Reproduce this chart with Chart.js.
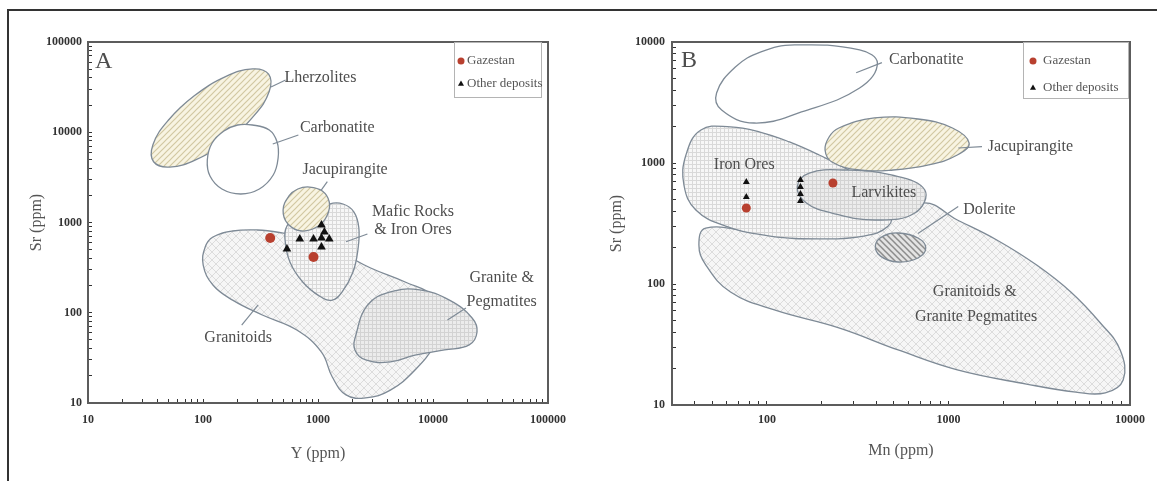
<!DOCTYPE html>
<html>
<head>
<meta charset="utf-8">
<script src="https://cdn.jsdelivr.net/npm/chart.js@4.4.1/dist/chart.umd.min.js"></script>
<style>
  html, body { margin: 0; padding: 0; background: #fff; }
  body { width: 1157px; height: 481px; position: relative; overflow: hidden; }
  #frame { position: absolute; left: 7px; top: 9px; width: 1200px; height: 600px;
           border-left: 2px solid #333; border-top: 2px solid #333; }
  .panel { position: absolute; top: 0; }
  #panelA { left: 0; }
  #panelB { left: 580px; }
</style>
</head>
<body>
<div id="frame"></div>
<div class="panel" id="panelA"><canvas id="chartA" width="580" height="481"></canvas></div>
<div class="panel" id="panelB"><canvas id="chartB" width="577" height="481"></canvas></div>
<script>
// ---- Panel A : Sr vs Y (ppm) ----
const xTicksA = [10, 100, 1000, 10000, 100000];
const yTicksA = [10, 100, 1000, 10000, 100000];

const gazestanA = [[384, 673], [914, 415]];
const otherA = [[537, 508], [694, 656], [914, 656], [1072, 938], [1072, 673], [1253, 656], [1072, 535], [1137, 785]];

const lherzolitesA = [[372, 44000], [377, 28400], [279, 15350], [164, 8130], [88, 5010], [51.2, 4110],
  [37.2, 4710], [36.7, 7280], [49.7, 13490], [84.5, 25470], [157, 41260], [270, 50350]];
const carbonatiteA = [[269, 12030], [377, 10600], [441, 7800], [450, 5190], [408, 3360], [309, 2350],
  [213, 2070], [146, 2350], [115, 3270], [109, 4930], [120, 7600], [152, 10330], [200, 12030]];
const jacupirangiteA = [[845, 2470], [1091, 2230], [1253, 1687], [1205, 1211], [1009, 914], [722, 805],
  [548, 962], [497, 1377], [559, 1968], [667, 2350]];
const maficA = [[1253, 1603], [1652, 1603], [2056, 1306], [2266, 869], [2222, 496], [2015, 283], [1622, 170],
  [1331, 138], [1030, 153], [736, 219], [570, 365], [517, 640], [537, 914], [654, 1122], [933, 1306]];
const granitoidsA = [[100.4, 338], [104.5, 535], [122, 690], [181, 805], [297, 826], [486, 766], [970, 640],
  [1753, 436], [2870, 313], [5728, 219], [10350, 150], [12600, 83.2], [10350, 44], [6980, 23.2], [4260, 13.9],
  [2600, 11.4], [1753, 12.3], [1331, 19.4], [1072, 36.7], [654, 64.4], [328, 94.4], [181, 138], [122, 203]];
const graniteA = [[2136, 56.8], [2706, 122], [4260, 170], [7690, 179], [13900, 138], [21880, 87.5],
  [24150, 61.2], [20640, 44], [12600, 38.7], [6980, 34], [4260, 28.5], [2600, 30], [2094, 38.7]];

const labelsA = [['Lherzolites', 1050, 39900], ['Carbonatite', 1469, 11140], ['Jacupirangite', 1719, 3820],
  ['Mafic Rocks', 6700, 1306], ['& Iron Ores', 6700, 826], ['Granite &', 39560, 243],
  ['Pegmatites', 39560, 132], ['Granitoids', 202, 52.5]];
const leadersA = [[[390, 31700], [523, 37960]], [[404, 7410], [675, 9330]], [[1067, 2290], [1205, 2830]],
  [[1753, 612], [2690, 746]], [[13360, 83.2], [19330, 113]], [[217, 73.1], [302, 122]]];
const panelA = ['A', 13.7, 60000];

// ---- Panel B : Sr vs Mn (ppm) ----
const xTicksB = [100, 1000, 10000];
const yTicksB = [10, 100, 1000, 10000];

const gazestanB = [[77, 425], [231, 684]];
const otherB = [[77, 697], [77, 524], [153, 724], [153, 634], [153, 555], [153, 486]];

const carbonatiteB = [[142, 9450], [324, 8590], [406, 6700], [324, 4170], [155, 2640], [85, 2140],
  [56.3, 2740], [52.8, 3790], [67, 6210], [92.7, 8270]];
const jacupirangiteB = [[249, 1946], [391, 2356], [679, 2310], [1052, 1946], [1300, 1462], [1119, 1164],
  [778, 963], [496, 875], [324, 875], [228, 1019], [209, 1280], [220, 1641]];
const ironB = [[43.3, 1875], [63, 1987], [91.6, 1803], [133, 1493], [194, 1164], [282, 875], [411, 598],
  [484, 409], [466, 301], [341, 249], [194, 236], [104, 249], [59.2, 301], [40.6, 409], [34.9, 658], [35.8, 1164]];
const larvikitesB = [[171, 826], [272, 875], [484, 796], [741, 598], [653, 386], [396, 338], [228, 386],
  [165, 468], [147, 634]];
const doleriteB = [[528, 264], [679, 240], [750, 199], [679, 164], [528, 152], [422, 170], [396, 210], [437, 249]];
const granitoidsB = [[46, 290], [91.6, 269], [363, 301], [723, 468], [1119, 338], [1846, 231], [3047, 144],
  [4720, 85.9], [6870, 47.6], [8830, 28.5], [9170, 16.1], [7311, 12.6], [5024, 12.8], [2688, 14.9],
  [1119, 19.5], [528, 28.5], [249, 43.4], [110, 61], [63, 85.9], [46, 144], [42.2, 210]];

const labelsB = [['Carbonatite', 755, 7100], ['Jacupirangite', 2826, 1355], ['Iron Ores', 75, 963],
  ['Larvikites', 441, 565], ['Dolerite', 1683, 409], ['Granitoids &', 1397, 86.3],
  ['Granite Pegmatites', 1419, 53.7]];
const leadersB = [[[310, 5570], [430, 6750]], [[1132, 1330], [1530, 1365]], [[679, 262], [1132, 436]]];
const panelB = ['B', 37.2, 6970];

// ---- styling helpers ----
const OUTLINE = '#7e8a96';
const SERIF = "'Liberation Serif', 'Times New Roman', serif";

function pattern(bg, fg, size, kind, lw) {
  const c = document.createElement('canvas');
  c.width = c.height = size;
  const g = c.getContext('2d');
  g.fillStyle = bg;
  g.fillRect(0, 0, size, size);
  g.strokeStyle = fg;
  g.lineWidth = lw || 1;
  g.beginPath();
  if (kind === 'grid') {
    g.moveTo(0, 0.5); g.lineTo(size, 0.5);
    g.moveTo(0.5, 0); g.lineTo(0.5, size);
  }
  if (kind === 'fwd' || kind === 'cross') {
    g.moveTo(-1, size + 1); g.lineTo(size + 1, -1);
    g.moveTo(-1, 1); g.lineTo(1, -1);
    g.moveTo(size - 1, size + 1); g.lineTo(size + 1, size - 1);
  }
  if (kind === 'back' || kind === 'cross') {
    g.moveTo(-1, -1); g.lineTo(size + 1, size + 1);
    g.moveTo(size - 1, -1); g.lineTo(size + 1, 1);
    g.moveTo(-1, size - 1); g.lineTo(1, size + 1);
  }
  g.stroke();
  return g.createPattern(c, 'repeat');
}

const hatchTan = pattern('#f8f4e2', '#d2c8a2', 6, 'fwd', 1.2);
const gridLight = pattern('#f7f7f7', '#d9d9d9', 4, 'grid', 1);
const gridGrey = pattern('#ececec', '#d3d3d3', 4, 'grid', 1);
const diamond = pattern('#f6f6f6', '#dcdcdc', 8, 'cross', 1);
const hatchDark = pattern('#e3e3e3', '#8c8c8c', 6, 'back', 1.5);

const toPts = (arr) => arr.map(([x, y]) => ({ x, y }));

function field(label, pts, fill, order) {
  return { type: 'line', label, data: toPts(pts), closed: true, fill: 'shape', backgroundColor: fill,
    borderColor: OUTLINE, borderWidth: 1.3, pointRadius: 0, tension: 0.42, order };
}
function leader(pts) {
  return { type: 'line', data: toPts(pts), fill: false, borderColor: OUTLINE, borderWidth: 1.2,
    pointRadius: 0, tension: 0, order: 2 };
}
function markers(label, pts, style, color, radius, order) {
  return { type: 'scatter', label, data: toPts(pts), legend: true, pointStyle: style,
    backgroundColor: color, borderColor: color, borderWidth: 0, pointRadius: radius, order };
}

// closes the field outlines into smooth loops
const closeLoops = {
  id: 'closeLoops',
  afterDatasetUpdate(chart, args) {
    const line = args.meta.dataset;
    if (line && chart.data.datasets[args.index].closed) {
      line._loop = true;
      line._fullLoop = true;
      delete line._segments;
      delete line._path;
      line._pointsUpdated = false;
    }
  }
};

// field names, panel letter, plot frame and legend box
const notes = {
  id: 'notes',
  afterDatasetsDraw(chart, args, o) {
    const { ctx, scales: { x, y } } = chart;
    ctx.save();
    ctx.fillStyle = '#4d4d4d';
    ctx.textAlign = 'center';
    ctx.textBaseline = 'middle';
    ctx.font = '16px ' + SERIF;
    o.labels.forEach(([t, vx, vy]) => ctx.fillText(t, x.getPixelForValue(vx), y.getPixelForValue(vy)));
    ctx.font = '24px ' + SERIF;
    ctx.fillText(o.panel[0], x.getPixelForValue(o.panel[1]), y.getPixelForValue(o.panel[2]));
    ctx.restore();
  },
  afterDraw(chart, args, o) {
    const { ctx, chartArea: a } = chart;
    const L = o.legend;
    ctx.save();
    ctx.strokeStyle = '#5c5c5c';
    ctx.lineWidth = 2;
    ctx.strokeRect(a.left, a.top, a.right - a.left, a.bottom - a.top);
    const lx = a.right - L.right - L.w, ly = a.top;
    ctx.lineWidth = 1;
    ctx.strokeStyle = '#b4b4b4';
    ctx.strokeRect(lx + 0.5, ly + 0.5, L.w, L.h);
    ctx.font = '13px ' + SERIF;
    ctx.textAlign = 'left';
    ctx.textBaseline = 'middle';
    chart.data.datasets.filter(d => d.legend).forEach((d, i) => {
      const cy = ly + 19 + i * L.gap;
      ctx.fillStyle = d.backgroundColor;
      ctx.strokeStyle = d.borderColor;
      Chart.helpers.drawPoint(ctx, { pointStyle: d.pointStyle, radius: 3.5, borderWidth: 0, rotation: 0 }, lx + L.mx, cy);
      ctx.fillStyle = '#555';
      ctx.fillText(d.label, lx + L.tx, cy);
    });
    ctx.restore();
  }
};

function logAxis(min, max, labels, o) {
  return {
    type: 'logarithmic', min, max,
    afterFit: (s) => { if (s.isHorizontal()) s.height = o.size; else s.width = o.size; },
    afterBuildTicks: (s) => {
      s.ticks = s.ticks.filter(t => {
        const m = t.value / Math.pow(10, Math.floor(Math.log10(t.value) + 1e-9));
        return Math.abs(m - Math.round(m)) < 1e-6;
      });
    },
    grid: { drawOnChartArea: false, tickLength: -4, tickColor: '#333', lineWidth: 1 },
    border: { display: false },
    ticks: {
      autoSkip: false, maxRotation: 0, padding: o.pad, color: '#333',
      font: { family: SERIF, size: 12, weight: 'bold' },
      callback: (v) => {
        const hit = labels.find(t => Math.abs(t - v) < t * 1e-6);
        return hit ? String(hit) : '';
      }
    },
    title: { display: true, text: o.title, color: '#555', font: { family: SERIF, size: 16 }, padding: o.titlePad }
  };
}

function baseOptions(scales, note) {
  return {
    responsive: false, animation: false, events: [],
    layout: { padding: { left: 0, top: 42, right: 25, bottom: 16 } },
    scales,
    plugins: { legend: { display: false }, tooltip: { enabled: false }, notes: note }
  };
}

new Chart(document.getElementById('chartA'), {
  type: 'scatter',
  data: {
    datasets: [
      markers('Gazestan', gazestanA, 'circle', '#b8402f', 5, 0),
      markers('Other deposits', otherA, 'triangle', '#111', 5, 1),
      ...leadersA.map(leader),
      field('Jacupirangite', jacupirangiteA, hatchTan, 15),
      field('Carbonatite', carbonatiteA, '#ffffff', 16),
      field('Lherzolites', lherzolitesA, hatchTan, 17),
      field('Mafic Rocks & Iron Ores', maficA, gridLight, 18),
      field('Granite & Pegmatites', graniteA, gridGrey, 19),
      field('Granitoids', granitoidsA, diamond, 20)
    ]
  },
  options: baseOptions({
    x: logAxis(10, 100000, xTicksA, { size: 62, pad: 14, title: 'Y (ppm)', titlePad: { top: 0, bottom: 2 } }),
    y: logAxis(10, 100000, yTicksA, { size: 88, pad: 10, title: 'Sr (ppm)', titlePad: { top: 27, bottom: 0 } })
  }, { labels: labelsA, panel: panelA, legend: { w: 87, h: 55, right: 7, mx: 7, tx: 13, gap: 23 } }),
  plugins: [closeLoops, notes]
});

new Chart(document.getElementById('chartB'), {
  type: 'scatter',
  data: {
    datasets: [
      markers('Gazestan', gazestanB, 'circle', '#b8402f', 4.5, 0),
      markers('Other deposits', otherB, 'triangle', '#111', 4, 1),
      ...leadersB.map(leader),
      field('Jacupirangite', jacupirangiteB, hatchTan, 15),
      field('Carbonatite', carbonatiteB, '#ffffff', 16),
      field('Dolerite', doleriteB, hatchDark, 17),
      field('Larvikites', larvikitesB, gridGrey, 18),
      field('Iron Ores', ironB, gridLight, 19),
      field('Granitoids & Granite Pegmatites', granitoidsB, diamond, 20)
    ]
  },
  options: baseOptions({
    x: logAxis(30, 10000, xTicksB, { size: 60, pad: 12, title: 'Mn (ppm)', titlePad: { top: 0, bottom: 5 } }),
    y: logAxis(10, 10000, yTicksB, { size: 92, pad: 11, title: 'Sr (ppm)', titlePad: { top: 27, bottom: 0 } })
  }, { labels: labelsB, panel: panelB, legend: { w: 105, h: 56, right: 2, mx: 10, tx: 20, gap: 27 } }),
  plugins: [closeLoops, notes]
});
</script>
</body>
</html>
